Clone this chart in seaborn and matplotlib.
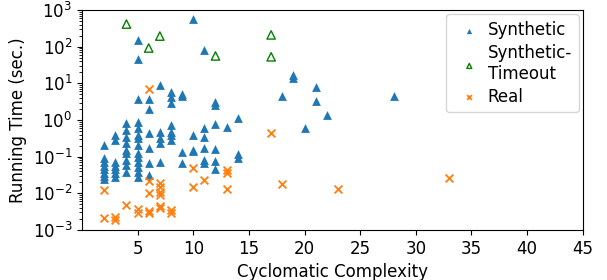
import matplotlib
matplotlib.use("Agg")
import matplotlib.pyplot as plt
import seaborn as sns

# Synthetic runs (finished)
synthetic_x = [2, 2, 2, 2, 2, 2, 2, 2,
               3, 3, 3, 3, 3, 3, 3,
               4, 4, 4, 4, 4, 4, 4, 4, 4,
               5, 5, 5, 5, 5, 5, 5, 5, 5, 5, 5, 5, 5, 5,
               6, 6, 6, 6, 6, 6,
               7, 7, 7, 7, 7,
               8, 8, 8, 8, 8, 8, 8,
               9, 9, 9, 9,
               10, 10, 10, 10,
               11, 11, 11, 11, 11, 11,
               12, 12, 12, 12, 12, 12,
               13,
               14, 14, 14,
               18, 19, 19, 20, 21, 21, 22, 28]
synthetic_y = [0.21, 0.09, 0.07, 0.055, 0.045, 0.035, 0.03, 0.025,
               0.39, 0.29, 0.07, 0.055, 0.045, 0.035, 0.028,
               0.83, 0.54, 0.35, 0.24, 0.155, 0.125, 0.08, 0.06, 0.039,
               150, 46, 3.7, 0.9, 0.6, 0.39, 0.32, 0.21, 0.125, 0.1, 0.072, 0.053, 0.039, 0.028,
               3.7, 2.0, 0.45, 0.17, 0.068, 0.032,
               9, 0.48, 0.32, 0.24, 0.072,
               5.9, 4.3, 3.0, 0.74, 0.48, 0.39, 0.29,
               5.0, 4.6, 0.135, 0.068,
               570, 0.39, 0.155, 0.14,
               81, 0.6, 0.35, 0.17, 0.08, 0.068,
               3.1, 2.6, 0.8, 0.16, 0.075, 0.046,
               0.65,
               1.1, 0.12, 0.09,
               4.6, 17, 14, 0.6, 8, 3.3, 1.4, 4.6]

# Synthetic runs that timed out
timeout_x = [4, 6, 7, 12, 17, 17]
timeout_y = [415, 92, 195, 56, 210, 53]

# Real programs
real_x = [2, 2, 3, 3, 4, 5, 5,
          6, 6, 6, 6, 6,
          7, 7, 7, 7, 7, 7,
          8, 8, 10, 10, 11, 13, 13, 13,
          17, 18, 23, 33]
real_y = [0.012, 0.0021, 0.0022, 0.0019, 0.0049, 0.0037, 0.0028,
          7, 0.022, 0.010, 0.0033, 0.0029,
          0.019, 0.015, 0.011, 0.009, 0.0046, 0.004,
          0.0035, 0.0029, 0.049, 0.015, 0.023, 0.044, 0.036, 0.013,
          0.45, 0.018, 0.013, 0.026]

fig, ax = plt.subplots(figsize=(6.07, 2.8), dpi=100)

sns.scatterplot(x=synthetic_x, y=synthetic_y, marker="^", color="tab:blue",
                s=40, linewidth=0, label="Synthetic", ax=ax)
sns.scatterplot(x=timeout_x, y=timeout_y, marker="^", color="green",
                facecolor="none", edgecolor="green", s=36, linewidth=1,
                label="Synthetic-\nTimeout", ax=ax)
sns.scatterplot(x=real_x, y=real_y, marker="x", color="tab:orange",
                s=32, linewidth=1.3, label="Real", ax=ax)

ax.set_yscale("log")
ax.set_ylim(1e-3, 1e3)
ax.set_xlim(0, 45)
ax.set_xticks(range(5, 46, 5))
ax.tick_params(labelsize=12)
ax.set_xlabel("Cyclomatic Complexity", fontsize=12)
ax.set_ylabel("Running Time (sec.)", fontsize=12)

ax.legend(loc="upper right", fontsize=12, markerscale=0.6,
          handletextpad=0.1, labelspacing=0.3, borderaxespad=0.25)

fig.subplots_adjust(left=0.135, right=0.96, top=0.964, bottom=0.179)
fig.savefig("out.png", dpi=100)
